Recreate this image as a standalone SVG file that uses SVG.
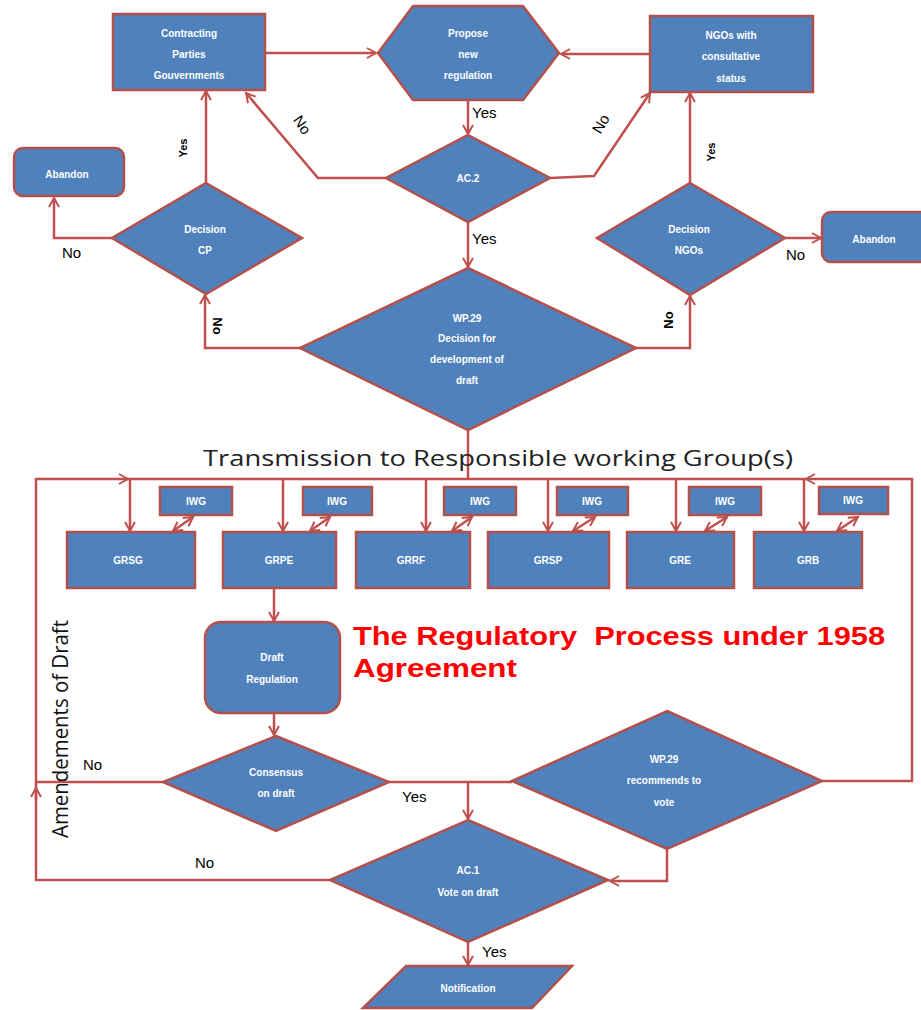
<svg xmlns="http://www.w3.org/2000/svg" width="921" height="1010" viewBox="0 0 921 1010">
<style>
.n{fill:#4F81BD;stroke:#B4504C;stroke-width:2.5}
.t{font-family:"Liberation Sans",Arial,sans-serif;font-size:10px;font-weight:bold;fill:#fff;text-anchor:middle}
.c{fill:none;stroke:#C0504D;stroke-width:2.5}
.l{font-family:"Liberation Sans",Arial,sans-serif;font-size:15px;fill:#000}
</style>
<defs>
<marker id="a" markerUnits="userSpaceOnUse" markerWidth="14" markerHeight="14" refX="10" refY="6" orient="auto-start-reverse" viewBox="0 0 14 12">
<path d="M1,1 L10,6 L1,11" fill="none" stroke="#C0504D" stroke-width="2"/>
</marker>
</defs>
<rect width="921" height="1010" fill="#fff"/>
<g id="connectors">
<path class="c" d="M265,53 H376" marker-end="url(#a)"/>
<path class="c" d="M650,54 H561" marker-end="url(#a)"/>
<path class="c" d="M468,100 V134" marker-end="url(#a)"/>
<path class="c" d="M386,178 H318 L246,93" marker-end="url(#a)"/>
<path class="c" d="M550,178 L594,176 L650,93" marker-end="url(#a)"/>
<path class="c" d="M468,222 V267" marker-end="url(#a)"/>
<path class="c" d="M206,183 V91" marker-end="url(#a)"/>
<path class="c" d="M112,238 H54 V198" marker-end="url(#a)"/>
<path class="c" d="M690,183 V93" marker-end="url(#a)"/>
<path class="c" d="M785,238 H821" marker-end="url(#a)"/>
<path class="c" d="M300,348 H205 V295" marker-end="url(#a)"/>
<path class="c" d="M636,348 H690 V296" marker-end="url(#a)"/>
<path class="c" d="M468,430 V479"/>
<path class="c" d="M128,479 H806"/>
<path class="c" d="M330,880 H36 V479 H128" marker-end="url(#a)"/>
<path class="c" d="M36,800 V788" marker-end="url(#a)"/>
<path class="c" d="M822,781 H912 V479 H806" marker-end="url(#a)"/>
<path class="c" d="M130,479 V531" marker-end="url(#a)"/>
<path class="c" d="M283,479 V531" marker-end="url(#a)"/>
<path class="c" d="M426,479 V531" marker-end="url(#a)"/>
<path class="c" d="M548,479 V531" marker-end="url(#a)"/>
<path class="c" d="M676,479 V531" marker-end="url(#a)"/>
<path class="c" d="M804,479 V531" marker-end="url(#a)"/>
<path class="c" d="M173,531 L193,517" marker-start="url(#a)" marker-end="url(#a)"/>
<path class="c" d="M310,531 L330,517" marker-start="url(#a)" marker-end="url(#a)"/>
<path class="c" d="M452,531 L472,517" marker-start="url(#a)" marker-end="url(#a)"/>
<path class="c" d="M573,531 L595,517" marker-start="url(#a)" marker-end="url(#a)"/>
<path class="c" d="M705,531 L727,517" marker-start="url(#a)" marker-end="url(#a)"/>
<path class="c" d="M837,531 L858,517" marker-start="url(#a)" marker-end="url(#a)"/>
<path class="c" d="M274,588 V621" marker-end="url(#a)"/>
<path class="c" d="M274,713 V735" marker-end="url(#a)"/>
<path class="c" d="M163,782 H36"/>
<path class="c" d="M389,782 H512"/>
<path class="c" d="M468,782 V819" marker-end="url(#a)"/>
<path class="c" d="M667,849 V881 H610" marker-end="url(#a)"/>
<path class="c" d="M468,942 V965" marker-end="url(#a)"/>
</g>
<g id="contracting-parties"><rect class="n" x="113" y="14" width="152" height="76"/>
<text class="t" x="189" y="37">Contracting</text><text class="t" x="189" y="58">Parties</text><text class="t" x="189" y="79">Gouvernments</text></g>
<g id="propose"><polygon class="n" points="378,53 413,6 523,6 559,53 523,100 413,100"/>
<text class="t" x="468" y="37">Propose</text><text class="t" x="468" y="58">new</text><text class="t" x="468" y="79">regulation</text></g>
<g id="ngos"><rect class="n" x="650" y="16" width="163" height="76"/>
<text class="t" x="731" y="39">NGOs with</text><text class="t" x="731" y="60">consultative</text><text class="t" x="731" y="82">status</text></g>
<g id="ac2"><polygon class="n" points="468,135 550,178 468,222 386,178"/>
<text class="t" x="468" y="182">AC.2</text></g>
<g id="abandon-left"><rect class="n" x="14" y="148" width="110" height="48" rx="9"/>
<text class="t" x="67" y="178">Abandon</text></g>
<g id="decision-cp"><polygon class="n" points="206,183 302,238 206,294 112,238"/>
<text class="t" x="205" y="233">Decision</text><text class="t" x="205" y="254">CP</text></g>
<g id="decision-ngos"><polygon class="n" points="690,183 785,238 690,295 597,238"/>
<text class="t" x="689" y="233">Decision</text><text class="t" x="689" y="254">NGOs</text></g>
<g id="abandon-right"><rect class="n" x="822" y="212" width="110" height="50" rx="9"/>
<text class="t" x="874" y="243">Abandon</text></g>
<g id="wp29-decision"><polygon class="n" points="468,268 636,348 468,430 300,348"/>
<text class="t" x="467" y="322">WP.29</text><text class="t" x="467" y="342">Decision for</text><text class="t" x="467" y="363">development of</text><text class="t" x="467" y="384">draft</text></g>
<g id="iwg-1"><rect class="n" x="160" y="487" width="72" height="28"/><text class="t" x="196" y="505">IWG</text></g>
<g id="iwg-2"><rect class="n" x="303" y="487" width="69" height="28"/><text class="t" x="337" y="505">IWG</text></g>
<g id="iwg-3"><rect class="n" x="444" y="487" width="72" height="28"/><text class="t" x="480" y="505">IWG</text></g>
<g id="iwg-4"><rect class="n" x="557" y="487" width="71" height="28"/><text class="t" x="592" y="505">IWG</text></g>
<g id="iwg-5"><rect class="n" x="689" y="487" width="72" height="28"/><text class="t" x="725" y="505">IWG</text></g>
<g id="iwg-6"><rect class="n" x="819" y="487" width="69" height="27"/><text class="t" x="853" y="504">IWG</text></g>
<g id="grsg"><rect class="n" x="67" y="532" width="128" height="56"/><text class="t" x="128" y="564">GRSG</text></g>
<g id="grpe"><rect class="n" x="223" y="532" width="113" height="56"/><text class="t" x="279" y="564">GRPE</text></g>
<g id="grrf"><rect class="n" x="356" y="532" width="114" height="56"/><text class="t" x="411" y="564">GRRF</text></g>
<g id="grsp"><rect class="n" x="488" y="532" width="121" height="56"/><text class="t" x="548" y="564">GRSP</text></g>
<g id="gre"><rect class="n" x="627" y="532" width="107" height="56"/><text class="t" x="680" y="564">GRE</text></g>
<g id="grb"><rect class="n" x="754" y="532" width="108" height="56"/><text class="t" x="808" y="564">GRB</text></g>
<g id="draft-regulation"><rect class="n" x="205" y="622" width="135" height="91" rx="16"/>
<text class="t" x="272" y="661">Draft</text><text class="t" x="272" y="683">Regulation</text></g>
<g id="consensus"><polygon class="n" points="276,736 389,782 276,831 163,782"/>
<text class="t" x="276" y="776">Consensus</text><text class="t" x="276" y="797">on draft</text></g>
<g id="wp29-recommends"><polygon class="n" points="667,711 822,781 667,849 512,781"/>
<text class="t" x="664" y="763">WP.29</text><text class="t" x="664" y="784">recommends to</text><text class="t" x="664" y="806">vote</text></g>
<g id="ac1"><polygon class="n" points="468,820 608,880 468,942 330,880"/>
<text class="t" x="468" y="874">AC.1</text><text class="t" x="468" y="896">Vote on draft</text></g>
<g id="notification"><polygon class="n" points="406,966 572,966 532,1008 363,1008"/>
<text class="t" x="468" y="992">Notification</text></g>
<g id="labels">
<text class="l" x="472" y="118">Yes</text>
<text class="l" x="472" y="244">Yes</text>
<text class="l" x="62" y="258">No</text>
<text class="l" x="786" y="260">No</text>
<text class="l" x="402" y="802">Yes</text>
<text class="l" x="83" y="770">No</text>
<text class="l" x="195" y="868">No</text>
<text class="l" x="482" y="957">Yes</text>
<text class="l" text-anchor="middle" transform="translate(302,125) rotate(55)" y="5">No</text>
<text class="l" text-anchor="middle" transform="translate(601,124) rotate(-60)" y="5">No</text>
<text class="l" style="font-size:13px;font-weight:bold" text-anchor="middle" transform="translate(218,326) rotate(90)" y="5">No</text>
<text class="l" style="font-size:13px;font-weight:bold" text-anchor="middle" transform="translate(668,320) rotate(-90)" y="5">No</text>
<text class="l" style="font-size:11px;font-weight:bold" text-anchor="middle" transform="translate(183,148) rotate(-90)" y="4">Yes</text>
<text class="l" style="font-size:11px;font-weight:bold" text-anchor="middle" transform="translate(711,152) rotate(-90)" y="4">Yes</text>
</g>
<g id="titles">
<text x="203" y="466" font-family="'Open Sans','Liberation Sans',sans-serif" font-size="22" fill="#222" textLength="590" lengthAdjust="spacingAndGlyphs">Transmission to Responsible working Group(s)</text>
<text transform="translate(68,838) rotate(-90)" font-family="'Open Sans','Liberation Sans',sans-serif" font-size="22" fill="#111" textLength="218" lengthAdjust="spacingAndGlyphs">Amendements of Draft</text>
<text x="353" y="645" font-family="'Liberation Sans',Arial,sans-serif" font-size="25" font-weight="bold" fill="#FF0000" textLength="532" lengthAdjust="spacingAndGlyphs" xml:space="preserve">The Regulatory  Process under 1958</text>
<text x="353" y="677" font-family="'Liberation Sans',Arial,sans-serif" font-size="25" font-weight="bold" fill="#FF0000" textLength="164" lengthAdjust="spacingAndGlyphs">Agreement</text>
</g>
</svg>
